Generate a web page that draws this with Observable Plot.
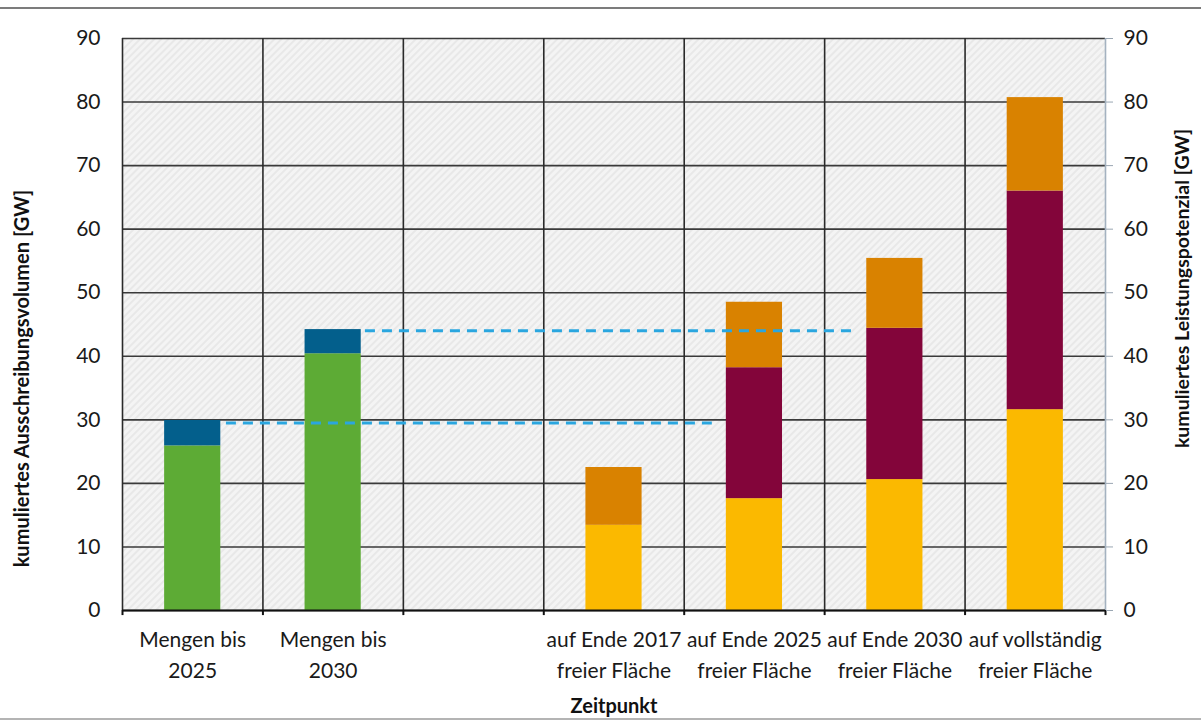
<!DOCTYPE html>
<html>
<head>
<meta charset="utf-8">
<script src="https://cdn.jsdelivr.net/npm/d3@7"></script>
<script src="https://cdn.jsdelivr.net/npm/@observablehq/plot@0.6"></script>
<style>
  body { margin: 0; background: #ffffff; width: 1201px; height: 728px; overflow: hidden; position: relative; font-family: Lato, sans-serif; }
  #chart { position: absolute; left: 0; top: 0; }
  .linie-oben { position: absolute; left: 0; top: 7px; width: 1201px; height: 2px; background: #7c7c7c; }
  .linie-unten { position: absolute; left: 0; top: 718px; width: 1201px; height: 2px; background: #b4b4b4; }
</style>
</head>
<body>
<div id="chart"></div>
<div class="linie-oben"></div>
<div class="linie-unten"></div>
<script>
// ---- Daten ----
const kategorien = [
  "Mengen bis\n2025",
  "Mengen bis\n2030",
  "",
  "auf Ende 2017\nfreier Fläche",
  "auf Ende 2025\nfreier Fläche",
  "auf Ende 2030\nfreier Fläche",
  "auf vollständig\nfreier Fläche"
];
const reihen = ["Volumen Basis", "Volumen Zusatz", "Potenzial A", "Potenzial B", "Potenzial C"];
const farben = ["#5dab35", "#035f8c", "#fbb900", "#83053a", "#d98200"];

const volumenBasis  = [25.9, 40.4, 0, 0, 0, 0, 0];
const volumenZusatz = [4.0, 3.8, 0, 0, 0, 0, 0];
const potenzialA    = [0, 0, 0, 13.4, 17.6, 20.6, 31.6];
const potenzialB    = [0, 0, 0, 0, 20.6, 23.8, 34.4];
const potenzialC    = [0, 0, 0, 9.1, 10.3, 11.0, 14.7];

const yTicks = [0, 10, 20, 30, 40, 50, 60, 70, 80, 90];

// Bezugslinien (gestrichelt): Höhe, Beginn und Ende in Kategorie-Einheiten
const linienY   = [29.5, 44.0];
const linienVon = [0.74, 1.73];
const linienBis = [4.2, 5.2];

const yTitelLinks  = "kumuliertes Ausschreibungsvolumen [GW]";
const yTitelRechts = "kumuliertes Leistungspotenzial [GW]";
const xTitel = "Zeitpunkt";

// ---- Tabellen für Plot ----
const werte = [volumenBasis, volumenZusatz, potenzialA, potenzialB, potenzialC];
const segmente = [];
kategorien.forEach((k, i) => {
  let summe = 0;
  werte.forEach((reihe, s) => {
    const v = reihe[i];
    if (v > 0) {
      segmente.push({ i, reihe: reihen[s], y1: summe, y2: summe + v });
      summe += v;
    }
  });
});
const linien = linienY.map((y, j) => ({ y, von: linienVon[j], bis: linienBis[j] }));
const grenzen = d3.range(0, kategorien.length + 1);
const mitten = d3.range(kategorien.length).map(i => i + 0.5);

const plot = Plot.plot({
  width: 1201,
  height: 728,
  marginTop: 38,
  marginBottom: 118,
  marginLeft: 122,
  marginRight: 96,
  style: { fontFamily: "Lato, sans-serif", fontSize: "21px", color: "#1a1a1a", background: "transparent" },
  x: { domain: [0, kategorien.length], axis: null },
  y: { domain: [0, 90], axis: null },
  color: { domain: reihen, range: farben },
  marks: [
    Plot.frame({ fill: "url(#schraffur)", stroke: "none" }),
    Plot.ruleY(yTicks, { stroke: "#3a3a3a", strokeWidth: 1.6 }),
    Plot.ruleX(grenzen.slice(0, -1), { y1: 0, y2: 90, stroke: "#2a2a2a", strokeWidth: 1.6 }),
    Plot.ruleX([kategorien.length], { y1: 0, y2: 90, stroke: "#a4b2c0", strokeWidth: 1.6 }),
    Plot.ruleX(grenzen, { y1: -0.8, y2: 0, stroke: "#111", strokeWidth: 2 }),
    Plot.rectY(segmente, { x1: d => d.i + 0.3, x2: d => d.i + 0.7, y1: "y1", y2: "y2", fill: "reihe" }),
    Plot.ruleY([0], { stroke: "#111", strokeWidth: 2 }),
    Plot.ruleY(linien, { y: "y", x1: "von", x2: "bis", stroke: "#2aa6df", strokeWidth: 3, strokeDasharray: "10,7" }),
    Plot.axisY(yTicks, { anchor: "left", tickSize: 0, tickPadding: 22, fontSize: 21, fill: "#1a1a1a" }),
    Plot.axisY(yTicks, { anchor: "right", tickSize: 7, tickPadding: 11, stroke: "#9aa6b2", fontSize: 21, fill: "#1a1a1a" }),
    Plot.axisX(mitten, { anchor: "bottom", tickSize: 0, tickPadding: 15, fontSize: 21, lineHeight: 1.45,
      tickFormat: d => kategorien[Math.floor(d)], fill: "#1a1a1a" }),
    Plot.text([yTitelLinks], { frameAnchor: "left", textAnchor: "middle", dx: -100, dy: 54, rotate: -90, fontWeight: "bold", fontSize: 20, fill: "#111" }),
    Plot.text([yTitelRechts], { frameAnchor: "right", textAnchor: "middle", dx: 77, dy: -36, rotate: -90, fontWeight: "bold", fontSize: 19.5, fill: "#111" }),
    Plot.text([xTitel], { frameAnchor: "bottom", textAnchor: "middle", dy: 102, fontWeight: "bold", fontSize: 20, fill: "#111" })
  ]
});

const ns = "http://www.w3.org/2000/svg";
const defs = document.createElementNS(ns, "defs");
defs.innerHTML = '<pattern id="schraffur" width="5" height="5" patternUnits="userSpaceOnUse" patternTransform="rotate(45)">' +
  '<rect width="5" height="5" fill="#f4f4f4"></rect>' +
  '<line x1="1" y1="0" x2="1" y2="5" stroke="#e0e0e0" stroke-width="1.2"></line></pattern>';
plot.insertBefore(defs, plot.firstChild);
document.getElementById("chart").appendChild(plot);
</script>
</body>
</html>
